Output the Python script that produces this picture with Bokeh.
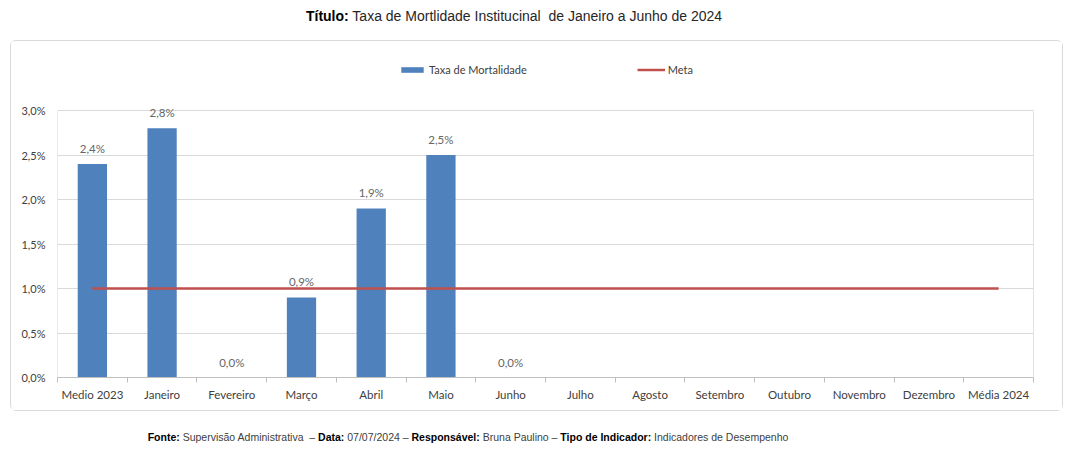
from bokeh.plotting import figure
from bokeh.models import (ColumnDataSource, FixedTicker, Legend, LegendItem,
                          LabelSet, Range1d, Div, Spacer)
from bokeh.core.properties import value
from bokeh.layouts import column, row
from bokeh.embed import file_html
from bokeh.resources import INLINE

# ---------------- data ----------------
categories = ["Medio 2023", "Janeiro", "Fevereiro", "Março", "Abril", "Maio", "Junho",
              "Julho", "Agosto", "Setembro", "Outubro", "Novembro", "Dezembro", "Média 2024"]
taxa = [2.4, 2.8, 0.0, 0.9, 1.9, 2.5, 0.0, None, None, None, None, None, None, None]
meta = [1.0] * 14
y_ticks = [0.0, 0.5, 1.0, 1.5, 2.0, 2.5, 3.0]

title_bold = "Título:"
title_rest = " Taxa de Mortlidade Institucinal&nbsp; de Janeiro a Junho de 2024"
footer_parts = [("Fonte:", True), (" Supervisão Administrativa &nbsp;– ", False),
                ("Data:", True), (" 07/07/2024 – ", False),
                ("Responsável:", True), (" Bruna Paulino – ", False),
                ("Tipo de Indicador:", True), (" Indicadores de Desempenho", False)]


def pct(v):
    return f"{v:.1f}".replace(".", ",") + "%"


# ---------------- title / footer ----------------
title_html = (
    '<div style="width:1028px;height:40px;text-align:center;white-space:nowrap;'
    "font-family:'Liberation Sans',Arial,sans-serif;font-size:14px;line-height:16px;"
    'padding-top:8px;box-sizing:border-box;color:#262626;">'
    f'<b style="color:#000">{title_bold}</b>{title_rest}</div>'
)
title_div = Div(text=title_html, width=1028, height=40, margin=(0, 0, 0, 0))

footer_html = (
    '<div style="width:936px;height:36px;text-align:center;white-space:nowrap;'
    "font-family:'Liberation Sans',Arial,sans-serif;font-size:10.5px;line-height:12px;"
    'padding-top:18px;box-sizing:border-box;color:#404040;">'
    + "".join(f'<b style="color:#000">{s}</b>' if b else s for s, b in footer_parts)
    + "</div>"
)
footer_div = Div(text=footer_html, width=936, height=36, margin=(0, 0, 0, 0))

# ---------------- figure ----------------
# plot frame extends above the top tick to hold the legend
PW, PH = 1053, 371
FRAME_TOP_PX, TICK_TOP_PX, ZERO_PX = 11, 69, 336
y_top = y_ticks[-1] * (ZERO_PX - FRAME_TOP_PX) / (ZERO_PX - TICK_TOP_PX)

p = figure(width=PW, height=PH, output_backend="svg", toolbar_location=None,
           x_range=Range1d(-0.5, len(categories) - 0.5), y_range=Range1d(0, y_top),
           min_border_left=46, min_border_right=31, min_border_top=FRAME_TOP_PX,
           min_border_bottom=PH - ZERO_PX, title=None, margin=(0, 0, 0, 0))
p.styles = {"border": "1px solid #d9d9d9", "border-radius": "6px"}
p.background_fill_color = "white"
p.border_fill_color = "white"
p.outline_line_color = None

x_idx = list(range(len(categories)))
src = ColumnDataSource(dict(x=x_idx,
                            taxa=[v if v is not None else float("nan") for v in taxa],
                            meta=meta))

# plot-area borders (left / right) up to the top tick
p.segment(x0=[p.x_range.start], x1=[p.x_range.start], y0=[y_ticks[0]], y1=[y_ticks[-1]],
          line_color="#d9d9d9", line_width=1)
p.segment(x0=[p.x_range.end], x1=[p.x_range.end], y0=[y_ticks[0]], y1=[y_ticks[-1]],
          line_color="#b9c7d8", line_width=1)

bars = p.vbar(x="x", top="taxa", width=0.42, source=src, fill_color="#4f81bd",
              line_color=None)
line = p.line(x="x", y="meta", source=src, line_color="#c0504d", line_width=2.5)

lab_x = [i for i, v in enumerate(taxa) if v is not None]
lab_y = [v for v in taxa if v is not None]
lab_t = [pct(v) for v in taxa if v is not None]
lsrc = ColumnDataSource(dict(x=lab_x, y=lab_y, t=lab_t))
p.add_layout(LabelSet(x="x", y="y", text="t", source=lsrc, text_align="center",
                      text_baseline="bottom", y_offset=9, text_font=value("Lato"),
                      text_font_size=value("11.5px"), text_color=value("#666666")))

# axes
xa = p.xaxis[0]
xa.ticker = FixedTicker(ticks=x_idx,
                        minor_ticks=[i - 0.5 for i in range(len(categories) + 1)])
xa.major_label_overrides = {i: c for i, c in enumerate(categories)}
xa.major_tick_line_color = None
xa.major_tick_out = 0
xa.major_tick_in = 0
xa.minor_tick_line_color = "#bfbfbf"
xa.minor_tick_in = 0
xa.minor_tick_out = 5
xa.axis_line_color = "#bfbfbf"
xa.major_label_standoff = 5
xa.major_label_text_font = "Lato"
xa.major_label_text_font_size = "11.5px"
xa.major_label_text_color = "#404040"

ya = p.yaxis[0]
ya.ticker = FixedTicker(ticks=y_ticks, minor_ticks=[])
ya.major_label_overrides = {t: pct(t) for t in y_ticks}
ya.major_tick_line_color = None
ya.major_tick_out = 0
ya.major_tick_in = 0
ya.minor_tick_line_color = None
ya.axis_line_color = None
ya.major_label_standoff = 12
ya.major_label_text_font = "Lato"
ya.major_label_text_font_size = "11px"
ya.major_label_text_color = "#404040"

p.xgrid.grid_line_color = None
p.ygrid.grid_line_color = "#d9d9d9"
p.ygrid.grid_line_width = 1

# legend (inside the extended frame, above the plotting area)
legend = Legend(items=[LegendItem(label="Taxa de Mortalidade", renderers=[bars]),
                       LegendItem(label="Meta", renderers=[line])],
                orientation="horizontal", location=(341, 301), spacing=110,
                glyph_width=28, glyph_height=7, label_height=10, label_standoff=3,
                padding=0, margin=0, border_line_color=None, background_fill_alpha=0,
                label_text_font="Lato", label_text_font_size="11px",
                label_text_color="#404040")
p.add_layout(legend)

layout = column(title_div, row(Spacer(width=10, height=PH + 2), p, spacing=0),
                footer_div, spacing=0)
open("out.html", "w").write(file_html(layout, INLINE))
